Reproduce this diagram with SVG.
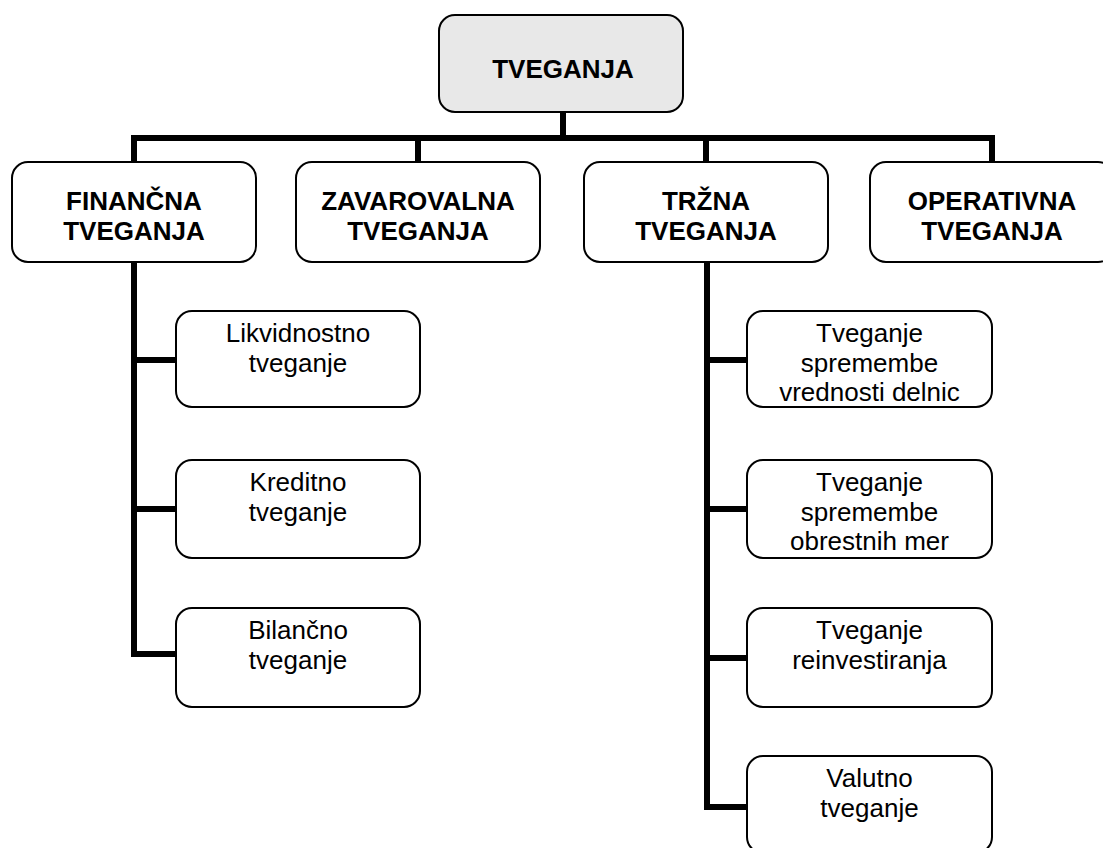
<svg xmlns="http://www.w3.org/2000/svg" width="1103" height="848" viewBox="0 0 1103 848">
<style>
.box{fill:#ffffff;stroke:#000000;stroke-width:2}
.root{fill:#e8e8e8;stroke:#000000;stroke-width:2}
.con{fill:none;stroke:#000000;stroke-width:6;stroke-linejoin:miter;stroke-linecap:butt}
.b{font-family:"Liberation Sans",Arial,sans-serif;font-size:26px;font-weight:bold;text-anchor:middle;fill:#000}
.n{font-family:"Liberation Sans",Arial,sans-serif;font-size:26px;text-anchor:middle;fill:#000}
</style>
<rect x="0" y="0" width="1103" height="848" fill="#ffffff"/>
<g id="connectors">
<path class="con" d="M563,112 V138"/>
<path class="con" d="M134,162 V138 H992 V162"/>
<path class="con" d="M418,138 V162"/>
<path class="con" d="M706,138 V162"/>
<path class="con" d="M134,262 V654 H176"/>
<path class="con" d="M134,360 H176"/>
<path class="con" d="M134,509 H176"/>
<path class="con" d="M707,262 V807 H747"/>
<path class="con" d="M707,360 H747"/>
<path class="con" d="M707,509 H747"/>
<path class="con" d="M707,658 H747"/>
</g>
<g id="root">
<rect class="root" x="439" y="15" width="244" height="97" rx="16"/>
<text class="b" x="563" y="78">TVEGANJA</text>
</g>
<g id="financna">
<rect class="box" x="12" y="162" width="244" height="100" rx="16"/>
<text class="b" x="134" y="210">FINANČNA</text>
<text class="b" x="134" y="240">TVEGANJA</text>
</g>
<g id="zavarovalna">
<rect class="box" x="296" y="162" width="244" height="100" rx="16"/>
<text class="b" x="418" y="210">ZAVAROVALNA</text>
<text class="b" x="418" y="240">TVEGANJA</text>
</g>
<g id="trzna">
<rect class="box" x="584" y="162" width="244" height="100" rx="16"/>
<text class="b" x="706" y="210">TRŽNA</text>
<text class="b" x="706" y="240">TVEGANJA</text>
</g>
<g id="operativna">
<rect class="box" x="870" y="162" width="244" height="100" rx="16"/>
<text class="b" x="992" y="210">OPERATIVNA</text>
<text class="b" x="992" y="240">TVEGANJA</text>
</g>
<g id="likvidnostno">
<rect class="box" x="176" y="311" width="244" height="96" rx="16"/>
<text class="n" x="298" y="342">Likvidnostno</text>
<text class="n" x="298" y="372">tveganje</text>
</g>
<g id="kreditno">
<rect class="box" x="176" y="460" width="244" height="98" rx="16"/>
<text class="n" x="298" y="491">Kreditno</text>
<text class="n" x="298" y="521">tveganje</text>
</g>
<g id="bilancno">
<rect class="box" x="176" y="608" width="244" height="99" rx="16"/>
<text class="n" x="298" y="639">Bilančno</text>
<text class="n" x="298" y="669">tveganje</text>
</g>
<g id="delnice">
<rect class="box" x="747" y="311" width="245" height="96" rx="16"/>
<text class="n" x="869.5" y="342">Tveganje</text>
<text class="n" x="869.5" y="371.5">spremembe</text>
<text class="n" x="869.5" y="401">vrednosti delnic</text>
</g>
<g id="obrestne">
<rect class="box" x="747" y="460" width="245" height="98" rx="16"/>
<text class="n" x="869.5" y="491">Tveganje</text>
<text class="n" x="869.5" y="520.5">spremembe</text>
<text class="n" x="869.5" y="550">obrestnih mer</text>
</g>
<g id="reinvestiranje">
<rect class="box" x="747" y="608" width="245" height="99" rx="16"/>
<text class="n" x="869.5" y="639">Tveganje</text>
<text class="n" x="869.5" y="669">reinvestiranja</text>
</g>
<g id="valutno">
<rect class="box" x="747" y="756" width="245" height="97" rx="16"/>
<text class="n" x="869.5" y="787">Valutno</text>
<text class="n" x="869.5" y="817">tveganje</text>
</g>
</svg>
